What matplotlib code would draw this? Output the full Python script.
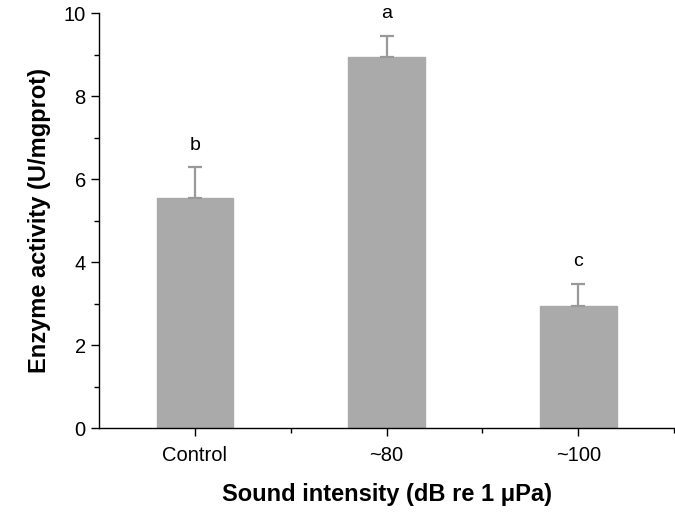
import matplotlib
matplotlib.use("Agg")
import matplotlib.pyplot as plt
from matplotlib.ticker import MultipleLocator, FixedLocator

groups = ["Control", "~80", "~100"]
activity = [5.55, 8.95, 2.93]
err_up = [0.73, 0.50, 0.55]
letters = ["b", "a", "c"]

plt.rcParams["font.family"] = ["Liberation Sans", "DejaVu Sans"]

fig = plt.figure(figsize=(6.75, 5.16), dpi=100)
ax = fig.add_axes([0.1467, 0.1705, 0.852, 0.804])

pos = list(range(1, len(groups) + 1))
grey = "#aaaaaa"
ax.bar(pos, activity, width=0.4, color=grey, edgecolor=grey, zorder=2)
ax.errorbar(pos, activity, yerr=[[0] * len(pos), err_up], fmt="none",
            ecolor="#999999", elinewidth=1.6, capsize=5, capthick=1.6, zorder=3)
for p, v, e, l in zip(pos, activity, err_up, letters):
    ax.text(p, v + e + 0.33, l, ha="center", va="bottom", fontsize=14)

ax.set_xlim(0.5, 3.5)
ax.set_ylim(0, 10)
ax.set_xticks(pos)
ax.set_xticklabels(groups, fontsize=14.5)
ax.xaxis.set_minor_locator(FixedLocator([1.5, 2.5, 3.5]))
ax.yaxis.set_major_locator(MultipleLocator(2))
ax.yaxis.set_minor_locator(MultipleLocator(1))
ax.tick_params(axis="y", labelsize=14.5, length=6, width=1)
ax.tick_params(axis="x", length=6, width=1, pad=7)
ax.tick_params(which="minor", length=3.5, width=1)

for s in ["top", "right"]:
    ax.spines[s].set_visible(False)
for s in ["left", "bottom"]:
    ax.spines[s].set_linewidth(1)

ax.set_ylabel("Enzyme activity (U/mgprot)", fontsize=17, fontweight="bold", labelpad=9)
ax.set_xlabel("Sound intensity (dB re 1 \u03bcPa)", fontsize=17, fontweight="bold", labelpad=13)

fig.savefig("out.png", dpi=100)
